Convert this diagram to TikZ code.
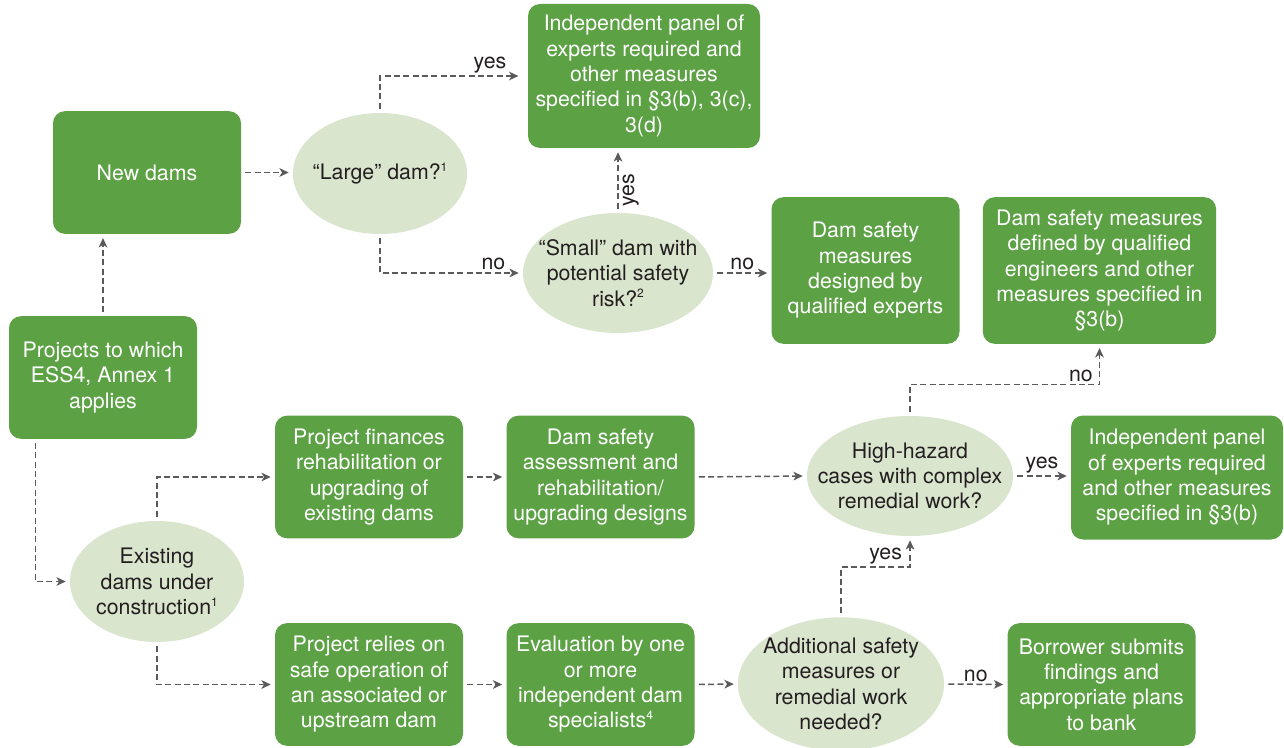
\documentclass[tikz,border=0pt]{standalone}
\usepackage{fontspec}
\setmainfont{TeX Gyre Heros}
\usetikzlibrary{arrows.meta,shapes.geometric}
\definecolor{boxgreen}{RGB}{92,162,69}
\definecolor{ovalgreen}{RGB}{218,229,206}
\definecolor{linegray}{RGB}{90,90,92}
\definecolor{txtdark}{RGB}{35,31,32}
\newcommand{\fnmark}[1]{\raisebox{0.75ex}{\fontsize{9pt}{9pt}\selectfont #1}}

\tikzset{
  box/.style={fill=boxgreen, rounded corners=9pt, text=white, align=center,
    minimum width=141pt, minimum height=92pt, inner sep=2pt,
    font=\fontsize{16pt}{19pt}\selectfont},
  oval/.style={ellipse, fill=ovalgreen, inner sep=0pt,
    minimum width=130.5pt, minimum height=90.75pt},
  ovaltext/.style={text=txtdark, align=center, inner sep=0pt,
    font=\fontsize{16pt}{19pt}\selectfont},
  link/.style={draw=linegray, line width=1.1pt, dash pattern=on 4.5pt off 2.5pt,
    -{Stealth[length=7pt,width=6.5pt,inset=2pt]}, shorten >=3pt, shorten <=3pt},
  lbl/.style={text=txtdark, inner sep=1.5pt, font=\fontsize{16pt}{19pt}\selectfont}
}

\begin{document}
\begin{tikzpicture}[x=0.75pt,y=-0.75pt]
  \useasboundingbox (0,0) rectangle (1284,748);

  % boxes
  \node[box] (newdams) at (147,172.5) {New dams};
  \node[box] (proj) at (103,377.5) {Projects to which\\ESS4, Annex 1\\applies};
  \node[box, minimum width=174pt, minimum height=108pt] (panel) at (644,76)
    {Independent panel of\\experts required and\\other measures\\specified in §3(b), 3(c),\\3(d)};
  \node[box, minimum height=110pt] (designed) at (865.5,270.5)
    {Dam safety\\measures\\designed by\\qualified experts};
  \node[box, minimum width=175pt, minimum height=110pt] (defined) at (1099.5,270.5)
    {Dam safety measures\\defined by qualified\\engineers and other\\measures specified in\\§3(b)};
  \node[box] (finance) at (369,477) {Project finances\\rehabilitation or\\upgrading of\\existing dams};
  \node[box] (relies) at (369,684.5) {Project relies on\\safe operation of\\an associated or\\upstream dam};
  \node[box] (assess) at (600.5,477) {Dam safety\\assessment and\\rehabilitation/\\upgrading designs};
  \node[box] (evaluation) at (600.5,684.5) {Evaluation by one\\or more\\independent dam\\specialists\fnmark{4}};
  \node[box, minimum width=159pt, minimum height=93pt] (panelb) at (1177,477.5)
    {Independent panel\\of experts required\\and other measures\\specified in §3(b)};
  \node[box] (borrower) at (1101.5,684.5) {Borrower submits\\findings and\\appropriate plans\\to bank};

  % decisions
  \node[oval] (large) at (380,173.5) {};
  \node[ovaltext] (largetxt) at (large) {“Large” dam?\fnmark{1}};
  \node[oval, minimum width=142.5pt, minimum height=90pt] (small) at (618,273) {};
  \node[ovaltext] (smalltxt) at (small) {“Small” dam with\\potential safety\\risk?\fnmark{2}};
  \node[oval] (existing) at (157,581.5) {};
  \node[ovaltext] (existingtxt) at (existing) {Existing\\dams under\\construction\fnmark{1}};
  \node[oval, minimum width=154.5pt, minimum height=90pt] (hazard) at (910,476) {};
  \node[ovaltext] (hazardtxt) at (hazard) {High-hazard\\cases with complex\\remedial work?};
  \node[oval, minimum width=154.5pt, minimum height=100pt] (additional) at (841,684) {};
  \node[ovaltext] (additionaltxt) at (additional) {Additional safety\\measures or\\remedial work\\needed?};

  % connectors
  \draw[link] (proj.north) -- (proj.north |- newdams.south);
  \draw[link] (newdams.east) -- (newdams.east -| large.west);
  \draw[link, shorten >=7pt] (large.north) |- (panel.west)
    node[lbl, pos=1, anchor=south east, xshift=-14pt] {yes};
  \draw[link] (large.south) |- (small.west)
    node[lbl, pos=1, anchor=south east, xshift=-11pt] {no};
  \draw[link] (small.north) -- (small.north |- panel.south)
    node[lbl, pos=0.35, rotate=90, anchor=north, inner sep=3pt] {yes};
  \draw[link] (small.east) -- (small.east -| designed.west)
    node[lbl, midway, above] {no};
  \draw[link] (hazard.north) -- ++(0,-31) -|
    node[lbl, pos=0.5, anchor=south east, xshift=-3pt] {no} (defined.south);
  \draw[link] (hazard.east) -- (hazard.east -| panelb.west)
    node[lbl, midway, above] {yes};
  \draw[link] ([xshift=20pt]proj.south west) |- (existing.west);
  \draw[link] (existing.north) |- (finance.west);
  \draw[link] (existing.south) |- (relies.west);
  \draw[link] (finance.east) -- (assess.west);
  \draw[link] (assess.east) -- (hazard.west);
  \draw[link] (relies.east) -- (evaluation.west);
  \draw[link] (evaluation.east) -- (additional.west);
  \draw[link] (additional.north) -- ++(0,-50) -|
    node[lbl, pos=0.5, anchor=south east, xshift=-4pt] {yes} (hazard.south);
  \draw[link] (additional.east) -- (borrower.west)
    node[lbl, midway, above] {no};
\end{tikzpicture}
\end{document}
